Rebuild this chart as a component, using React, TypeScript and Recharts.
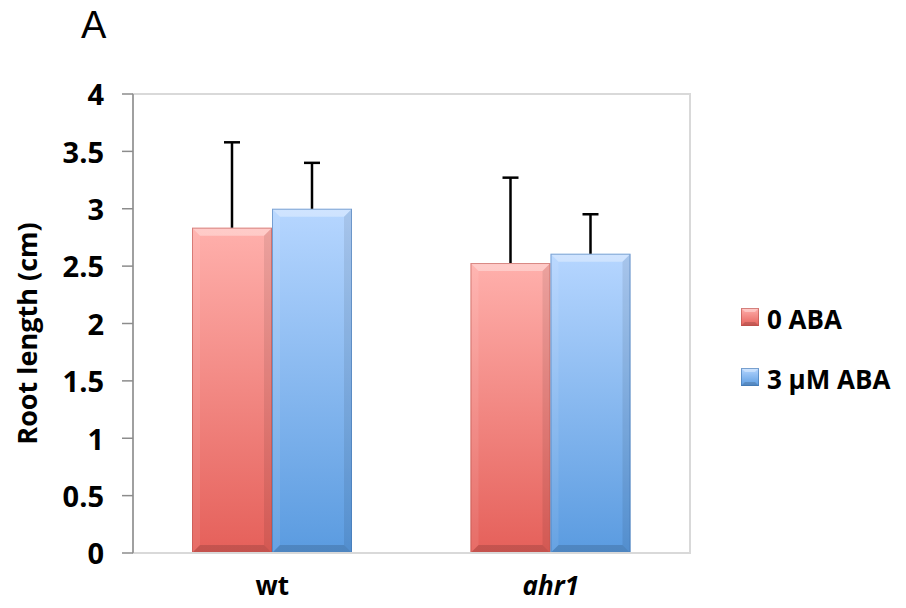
import React from 'react';
import { BarChart, Bar, XAxis, YAxis, Legend, ReferenceArea } from 'recharts';

const categories = ['wt', 'ahr1'];
const aba0 = [2.835, 2.527];
const aba0Err = [0.744, 0.744];
const aba3 = [3.0, 2.608];
const aba3Err = [0.4, 0.344];
const yTicks = [0, 0.5, 1, 1.5, 2, 2.5, 3, 3.5, 4];
const seriesNames = ['0 ABA', '3 μM ABA'];

const data = categories.map((c, i) => ({
  name: c,
  aba0: aba0[i],
  aba0Err: aba0Err[i],
  aba3: aba3[i],
  aba3Err: aba3Err[i],
}));

const FONT = '"Open Sans", "Liberation Sans", sans-serif';

const palette: Record<string, { top: string; bottom: string; edge: string }> = {
  red: { top: '#FFB0AC', bottom: '#E5605A', edge: '#B8504B' },
  blue: { top: '#B6D6FF', bottom: '#5A9BE0', edge: '#3F73AE' },
};

const BevelBar = (color: string) => (props: any) => {
  const { x, y, width, height } = props;
  if (!height || height <= 0) return null;
  const p = palette[color];
  const id = `grad-${color}`;
  const b = Math.min(8, width / 4, height / 4);
  return (
    <g>
      <defs>
        <linearGradient id={id} x1="0" y1="0" x2="0" y2="1">
          <stop offset="0%" stopColor={p.top} />
          <stop offset="100%" stopColor={p.bottom} />
        </linearGradient>
      </defs>
      <rect x={x} y={y} width={width} height={height} fill={`url(#${id})`} />
      <polygon
        points={`${x},${y} ${x + width},${y} ${x + width - b},${y + b} ${x + b},${y + b}`}
        fill="#ffffff"
        fillOpacity={0.35}
      />
      <polygon
        points={`${x},${y} ${x + b},${y + b} ${x + b},${y + height - b} ${x},${y + height}`}
        fill="#ffffff"
        fillOpacity={0.08}
      />
      <polygon
        points={`${x + width},${y} ${x + width},${y + height} ${x + width - b},${y + height - b} ${x + width - b},${y + b}`}
        fill="#000000"
        fillOpacity={0.08}
      />
      <polygon
        points={`${x},${y + height} ${x + b},${y + height - b} ${x + width - b},${y + height - b} ${x + width},${y + height}`}
        fill="#000000"
        fillOpacity={0.14}
      />
      <rect x={x + 0.5} y={y + 0.5} width={width - 1} height={height - 1} fill="none" stroke={p.edge} strokeOpacity={0.55} strokeWidth={1} />
    </g>
  );
};

const ErrShape = (props: any) => {
  const { x, y, width, height } = props;
  if (height == null) return null;
  const cx = x + width / 2;
  return (
    <g>
      <line x1={cx} y1={y + height} x2={cx} y2={y} stroke="#000" strokeWidth={2.5} />
      <line x1={cx - 8} y1={y} x2={cx + 8} y2={y} stroke="#000" strokeWidth={2.5} />
    </g>
  );
};

const YTick = (props: any) => {
  const { y, payload } = props;
  return (
    <text x={104} y={y + 1} dy="0.355em" textAnchor="end" fontFamily={FONT} fontWeight="bold" fontSize={29} fill="#000">
      {payload.value}
    </text>
  );
};

const XTick = (props: any) => {
  const { x, y, payload } = props;
  return (
    <text
      x={x}
      y={y + 42}
      textAnchor="middle"
      fontFamily={FONT}
      fontWeight="bold"
      fontStyle={payload.value === 'ahr1' ? 'italic' : 'normal'}
      fontSize={26}
      fill="#000"
    >
      {payload.value}
    </text>
  );
};

const LegendSquare = ({ color, x, y }: { color: string; x: number; y: number }) => {
  const p = palette[color];
  const id = `lg-${color}`;
  const s = 18;
  const b = 4;
  return (
    <g>
      <defs>
        <linearGradient id={id} x1="0" y1="0" x2="0" y2="1">
          <stop offset="0%" stopColor={p.top} />
          <stop offset="100%" stopColor={p.bottom} />
        </linearGradient>
      </defs>
      <rect x={x} y={y} width={s} height={s} fill={`url(#${id})`} />
      <polygon points={`${x},${y} ${x + s},${y} ${x + s - b},${y + b} ${x + b},${y + b}`} fill="#fff" fillOpacity={0.35} />
      <polygon points={`${x},${y + s} ${x + b},${y + s - b} ${x + s - b},${y + s - b} ${x + s},${y + s}`} fill="#000" fillOpacity={0.15} />
      <rect x={x + 0.5} y={y + 0.5} width={s - 1} height={s - 1} fill="none" stroke={p.edge} strokeOpacity={0.6} />
    </g>
  );
};

const LegendContent = (props: any) => {
  const items = (props.payload || []).filter((e: any) => e.value === seriesNames[0] || e.value === seriesNames[1]);
  return (
    <svg width={176} height={110} style={{ display: 'block' }}>
      {items.map((e: any, i: number) => (
        <g key={e.value}>
          <LegendSquare color={i === 0 ? 'red' : 'blue'} x={11} y={18 + i * 60} />
          <text x={37} y={39 + i * 60} fontFamily={FONT} fontWeight="bold" fontSize={26} fill="#000">
            {e.value}
          </text>
        </g>
      ))}
    </svg>
  );
};

const YLabel = (props: any) => {
  const vb = props.viewBox || { y: 94, height: 459 };
  const cy = vb.y + vb.height / 2 + 10;
  return (
    <text
      x={37}
      y={cy}
      transform={`rotate(-90, 37, ${cy})`}
      textAnchor="middle"
      fontFamily={FONT}
      fontWeight="bold"
      fontSize={27}
      fill="#000"
    >
      Root length (cm)
    </text>
  );
};

export default function App() {
  return (
    <div style={{ position: 'absolute', left: 0, top: 0, width: 906, height: 608, background: '#fff' }}>
      <svg width={200} height={70} style={{ position: 'absolute', left: 0, top: 0 }}>
        <text x={81} y={38} fontFamily='"Liberation Sans", Arial, sans-serif' fontSize={38} fill="#000">
          A
        </text>
      </svg>
      <BarChart
        width={906}
        height={608}
        data={data}
        margin={{ top: 94, right: 216, bottom: 0, left: 0 }}
        barGap={0}
        barSize={80}
      >
        <ReferenceArea y1={0} y2={4} fill="none" stroke="#D9D9D9" strokeWidth={2} ifOverflow="visible" />
        <XAxis
          dataKey="name"
          height={55}
          tickLine={false}
          tickSize={0}
          tickMargin={0}
          axisLine={{ stroke: '#D9D9D9', strokeWidth: 2 }}
          tick={<XTick />}
          interval={0}
        />
        <YAxis
          width={133}
          domain={[0, 4]}
          ticks={yTicks}
          tickSize={11}
          tickMargin={18}
          tickLine={{ stroke: '#8C8C8C', strokeWidth: 1.5 }}
          axisLine={{ stroke: '#8C8C8C', strokeWidth: 1.5 }}
          tick={<YTick />}
          interval={0}
          label={{ content: <YLabel /> }}
        />
        <Legend
          layout="horizontal"
          align="center"
          verticalAlign="middle"
          content={<LegendContent />}
          wrapperStyle={{ left: 730, top: 290, width: 176, height: 110 }}
        />
        <Bar dataKey="aba0" name={seriesNames[0]} stackId="a" fill="#E5605A" shape={BevelBar('red')} isAnimationActive={false} />
        <Bar dataKey="aba0Err" stackId="a" fill="none" legendType="none" shape={ErrShape} isAnimationActive={false} />
        <Bar dataKey="aba3" name={seriesNames[1]} stackId="b" fill="#5A9BE0" shape={BevelBar('blue')} isAnimationActive={false} />
        <Bar dataKey="aba3Err" stackId="b" fill="none" legendType="none" shape={ErrShape} isAnimationActive={false} />
      </BarChart>
    </div>
  );
}
